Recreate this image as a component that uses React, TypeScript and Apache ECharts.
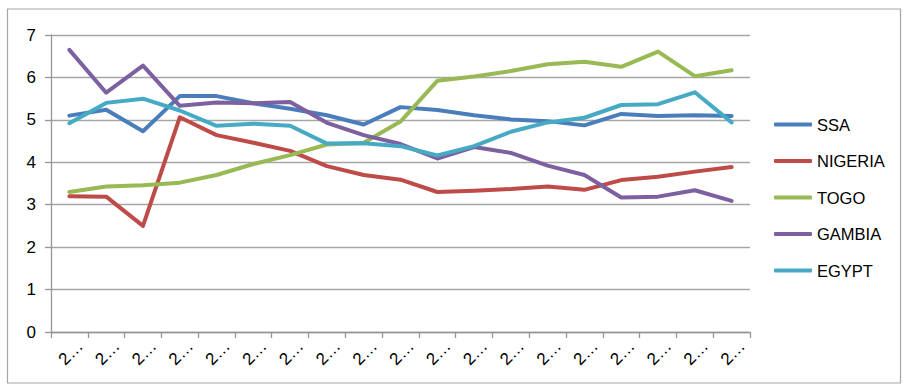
import React, { useEffect, useRef } from "react";
import * as echarts from "echarts";

const categories = ["2…", "2…", "2…", "2…", "2…", "2…", "2…", "2…", "2…", "2…", "2…", "2…", "2…", "2…", "2…", "2…", "2…", "2…", "2…"];
const ssa = [5.10, 5.24, 4.73, 5.56, 5.56, 5.39, 5.26, 5.11, 4.89, 5.30, 5.23, 5.11, 5.01, 4.97, 4.87, 5.14, 5.09, 5.11, 5.09];
const nigeria = [3.20, 3.19, 2.50, 5.06, 4.64, 4.46, 4.27, 3.91, 3.70, 3.59, 3.30, 3.33, 3.37, 3.43, 3.35, 3.58, 3.66, 3.78, 3.89];
const togo = [3.30, 3.43, 3.46, 3.52, 3.70, 3.96, 4.17, 4.42, 4.46, 4.96, 5.92, 6.02, 6.15, 6.31, 6.37, 6.25, 6.61, 6.03, 6.17];
const gambia = [6.65, 5.64, 6.28, 5.33, 5.41, 5.39, 5.42, 4.93, 4.64, 4.43, 4.09, 4.36, 4.22, 3.92, 3.70, 3.17, 3.19, 3.34, 3.09];
const egypt = [4.92, 5.40, 5.50, 5.22, 4.86, 4.91, 4.86, 4.44, 4.45, 4.38, 4.16, 4.38, 4.72, 4.94, 5.05, 5.35, 5.37, 5.65, 4.94];
const seriesNames = ["SSA", "NIGERIA", "TOGO", "GAMBIA", "EGYPT"];
const colors = ["#4a7ebb", "#be4b48", "#98b954", "#7d60a0", "#46aac5"];

const FONT = "Liberation Sans";

export default function App() {
  const ref = useRef<HTMLDivElement>(null);
  useEffect(() => {
    if (!ref.current) return;
    const chart = echarts.init(ref.current, null, { renderer: "svg" });
    const values = [ssa, nigeria, togo, gambia, egypt];
    chart.setOption({
      animation: false,
      backgroundColor: "#ffffff",
      textStyle: { fontFamily: FONT },
      graphic: [
        {
          type: "rect",
          shape: { x: 7.5, y: 9, width: 893, height: 374 },
          style: { fill: "none", stroke: "#a6a6a6", lineWidth: 1.2 },
          silent: true,
        },
      ],
      grid: { left: 51, top: 35, right: 158, bottom: 59, containLabel: false },
      legend: {
        orient: "vertical",
        left: 769,
        top: 111,
        itemWidth: 38,
        itemHeight: 4,
        itemGap: 19.5,
        icon: "roundRect",
        data: seriesNames,
        textStyle: { fontFamily: FONT, fontSize: 16.5, color: "#000" },
      },
      xAxis: {
        type: "category",
        data: categories,
        boundaryGap: true,
        axisLine: { lineStyle: { color: "#969696", width: 1.3 } },
        axisTick: { show: true, length: 6, lineStyle: { color: "#969696", width: 1.3 } },
        axisLabel: {
          rotate: 45,
          fontSize: 17,
          color: "#000",
          fontFamily: FONT,
          margin: 22,
          interval: 0,
          padding: [0, -15, 0, 0],
        },
      },
      yAxis: {
        type: "value",
        min: 0,
        max: 7,
        interval: 1,
        axisLine: { show: true, lineStyle: { color: "#969696", width: 1.3 } },
        axisTick: { show: true, length: 6, lineStyle: { color: "#969696", width: 1.3 } },
        axisLabel: { fontSize: 17, color: "#000", fontFamily: FONT, margin: 15 },
        splitLine: { lineStyle: { color: "#a6a6a6", width: 1.3 } },
      },
      series: seriesNames.map((name, i) => ({
        name,
        type: "line",
        data: values[i],
        symbol: "none",
        showSymbol: false,
        color: colors[i],
        lineStyle: { width: 4, color: colors[i], cap: "round", join: "round" },
      })),
    });
    return () => chart.dispose();
  }, []);
  return <div ref={ref} style={{ position: "fixed", left: 0, top: 0, width: 908, height: 391 }} />;
}
